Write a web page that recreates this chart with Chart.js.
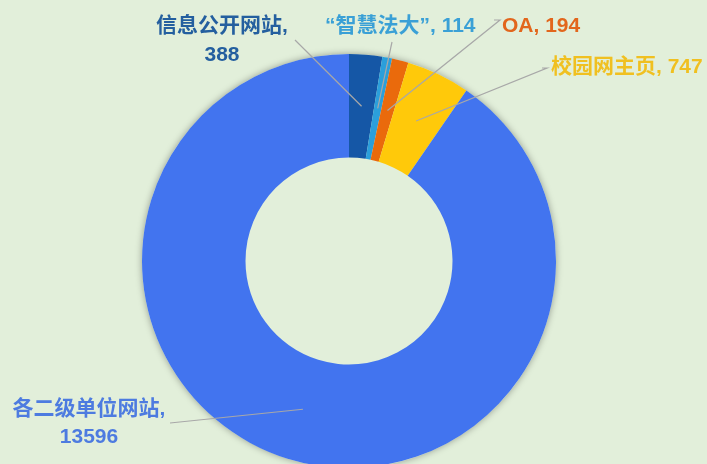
<!DOCTYPE html>
<html>
<head>
<meta charset="utf-8">
<script src="https://cdn.jsdelivr.net/npm/chart.js@4/dist/chart.umd.min.js"></script>
<style>
  html, body { margin: 0; padding: 0; background: #e2efda; overflow: hidden; }
  #wrap { position: relative; width: 707px; height: 480px; }
</style>
</head>
<body>
<div id="wrap"><canvas id="c"></canvas></div>
<script>
const categories = ['信息公开网站', '“智慧法大”', 'OA', '校园网主页', '各二级单位网站'];
const values = [388, 114, 194, 747, 13596];
const sliceColors = ['#1557a6', '#2b9fdb', '#ea6a0c', '#ffc90a', '#4274ef'];
const labelColors = ['#245f9f', '#3aa0d6', '#e2661c', '#f0c020', '#4d7be0'];

// label placement (annotation layout, not data)
const labelLayout = [
  { x: 222, y: 26, align: 'center', twoLine: true, lineGap: 29, lineEnd: [[295, 40]] },
  { x: 325, y: 26, align: 'left', twoLine: false, lineEnd: [[392, 42]] },
  { x: 502, y: 26, align: 'left', twoLine: false, lineEnd: [[500, 20], [494, 20]] },
  { x: 551, y: 67, align: 'left', twoLine: false, lineEnd: [[547, 68], [542, 68]] },
  { x: 89, y: 409, align: 'center', twoLine: true, lineGap: 28, lineEnd: [[170, 423]] }
];

const BG = '#e2efda';

const shadowPlugin = {
  id: 'ringShadow',
  beforeDatasetsDraw(chart) {
    const arc = chart.getDatasetMeta(0).data[0];
    if (!arc) return;
    const ctx = chart.ctx;
    ctx.save();
    ctx.shadowColor = 'rgba(0,0,0,0.35)';
    ctx.shadowBlur = 7;
    ctx.fillStyle = BG;
    ctx.beginPath();
    ctx.arc(arc.x, arc.y, arc.outerRadius, 0, Math.PI * 2);
    ctx.fill();
    ctx.restore();
  }
};

const labelPlugin = {
  id: 'calloutLabels',
  afterDatasetsDraw(chart) {
    const ctx = chart.ctx;
    const meta = chart.getDatasetMeta(0);
    ctx.save();
    // leader lines
    ctx.strokeStyle = '#a8a8a8';
    ctx.lineWidth = 1.2;
    meta.data.forEach((arc, i) => {
      const p = arc.getCenterPoint();
      const pts = labelLayout[i].lineEnd;
      ctx.beginPath();
      ctx.moveTo(p.x, p.y);
      pts.forEach(q => ctx.lineTo(q[0], q[1]));
      ctx.stroke();
    });
    // texts
    ctx.font = 'bold 21px "Liberation Sans", "Noto Sans CJK SC", sans-serif';
    ctx.textBaseline = 'middle';
    categories.forEach((cat, i) => {
      const L = labelLayout[i];
      ctx.fillStyle = labelColors[i];
      ctx.textAlign = L.align;
      if (L.twoLine) {
        ctx.fillText(cat + ',', L.x, L.y);
        ctx.fillText(String(values[i]), L.x, L.y + L.lineGap);
      } else {
        ctx.fillText(cat + ', ' + values[i], L.x, L.y);
      }
    });
    ctx.restore();
  }
};

new Chart(document.getElementById('c'), {
  type: 'doughnut',
  data: {
    labels: categories,
    datasets: [{
      data: values,
      backgroundColor: sliceColors,
      borderWidth: 0,
      hoverOffset: 0
    }]
  },
  options: {
    responsive: true,
    maintainAspectRatio: false,
    animation: false,
    cutout: '50%',
    layout: { padding: { top: 54, left: 142, right: 151, bottom: 12 } },
    plugins: {
      legend: { display: false },
      tooltip: { enabled: false }
    }
  },
  plugins: [shadowPlugin, labelPlugin]
});
</script>
</body>
</html>
